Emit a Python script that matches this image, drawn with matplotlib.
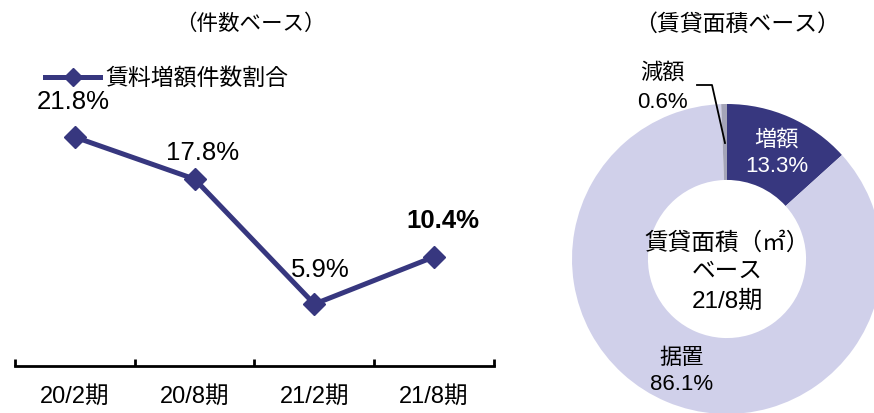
#!/usr/bin/env python3
"""
plot.py - 賃料増額件数割合 (line) + 賃貸面積ベース (donut)
"""

import matplotlib
matplotlib.use('Agg')
import matplotlib.pyplot as plt
import numpy as np

plt.rcParams['font.family'] = ['Liberation Sans', 'Noto Sans CJK JP', 'DejaVu Sans']

# data
periods = ['20/2期', '20/8期', '21/2期', '21/8期']
increase_share = [21.8, 17.8, 5.9, 10.4]
line_label = '賃料増額件数割合'

pie_labels = ['増額', '据置', '減額']
pie_values = [13.3, 86.1, 0.6]

NAVY = '#37377f'
LAVENDER = '#d0d0ea'
GRAY = '#a4a4b8'

W, H = 874, 413
fig = plt.figure(figsize=(W / 100, H / 100), dpi=100)

# ---- line chart (件数ベース) ----
ax = fig.add_axes([15 / W, 1 - 366 / H, 479 / W, 315 / H])
x = np.arange(len(periods))
ax.plot(x, increase_share, color=NAVY, lw=3.6, marker='D', ms=11,
        label=line_label)
ax.set_xlim(-0.5, len(periods) - 0.5)
ax.set_ylim(0, 30)

for s in ['top', 'right', 'left']:
    ax.spines[s].set_visible(False)
ax.spines['bottom'].set_linewidth(2)
ax.set_yticks([])
ax.set_xticks(np.arange(-0.5, len(periods), 1.0))
ax.set_xticklabels([])
ax.tick_params(axis='x', which='major', direction='in', length=5, width=2)
ax.set_xticks(x, minor=True)
ax.set_xticklabels(periods, minor=True, fontsize=17)
ax.tick_params(axis='x', which='minor', length=0, pad=14)

# value labels
offsets = [(-2, 3.3), (8, 2.5), (6, 3.2), (9, 3.4)]
for i, v in enumerate(increase_share):
    dx, dy = offsets[i]
    bold = i == len(increase_share) - 1
    ax.annotate(f'{v:.1f}%', (x[i], v), xytext=(dx, dy * 10.5),
                textcoords='offset pixels', ha='center', va='center',
                fontsize=18.5, fontweight='bold' if bold else 'normal')

ax.legend(loc='upper left', bbox_to_anchor=(0.03, 1.0), frameon=False,
          fontsize=16.5, handlelength=2.4, handletextpad=0.2, markerscale=0.8,
          borderaxespad=0.3)

fig.text(250 / W, 1 - 24 / H, '（件数ベース）', ha='center', va='center', fontsize=15.5)

# ---- donut (賃貸面積ベース) ----
pax = fig.add_axes([572 / W, -1 / H, 310 / W, 310 / H])
pax.pie(pie_values, colors=[NAVY, LAVENDER, GRAY], startangle=90,
        counterclock=False, radius=1.0,
        wedgeprops=dict(width=0.49, edgecolor='none'))
pax.set_xlim(-1, 1)
pax.set_ylim(-1, 1)
pax.set_aspect('equal')
pax.axis('off')


def to_fig(px, py):
    return px / W, 1 - py / H


fig.text(*to_fig(737, 24), '（賃貸面積ベース）', ha='center', va='center', fontsize=16.5)

# labels
fig.text(*to_fig(777, 140), pie_labels[0], ha='center', va='center', fontsize=16, color='white')
fig.text(*to_fig(777, 167), f'{pie_values[0]:.1f}%', ha='center', va='center', fontsize=16, color='white')
fig.text(*to_fig(682, 358), pie_labels[1], ha='center', va='center', fontsize=16)
fig.text(*to_fig(682, 385), f'{pie_values[1]:.1f}%', ha='center', va='center', fontsize=16)
fig.text(*to_fig(662, 73), pie_labels[2], ha='center', va='center', fontsize=16)
fig.text(*to_fig(662, 102), f'{pie_values[2]:.1f}%', ha='center', va='center', fontsize=16)

# leader line for 減額
lx, ly = zip(to_fig(697, 85), to_fig(712, 85), to_fig(725, 143))
fig.add_artist(plt.Line2D(lx, ly, color='black', lw=1.3, transform=fig.transFigure))

# center text
fig.text(*to_fig(727, 243), '賃貸面積（㎡）', ha='center', va='center', fontsize=17)
fig.text(*to_fig(727, 272), 'ベース', ha='center', va='center', fontsize=17)
fig.text(*to_fig(727, 302), '21/8期', ha='center', va='center', fontsize=17.5)

fig.savefig('out.png', dpi=100)
